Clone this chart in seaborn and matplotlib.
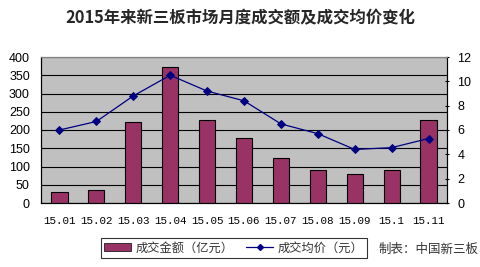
import matplotlib
matplotlib.use("Agg")
import matplotlib.pyplot as plt
import seaborn as sns
import pandas as pd
import numpy as np
from matplotlib.patches import Patch
from matplotlib.lines import Line2D

months = ["15.01", "15.02", "15.03", "15.04", "15.05", "15.06", "15.07", "15.08", "15.09", "15.1", "15.11"]
amount = [30, 36, 222, 372, 227, 178, 124, 91, 79, 91, 228]
price = [6.0, 6.7, 8.8, 10.5, 9.2, 8.4, 6.5, 5.7, 4.4, 4.55, 5.3]
left_ticks = [0, 50, 100, 150, 200, 250, 300, 350, 400]
right_ticks = [0, 2, 4, 6, 8, 10, 12]

title = "2015年来新三板市场月度成交额及成交均价变化"
bar_label = "成交金额（亿元）"
line_label = "成交均价（元）"
source = "制表：中国新三板"

sns.set_theme(style="white")
plt.rcParams["font.family"] = ["Noto Sans CJK SC", "DejaVu Sans"]

df = pd.DataFrame({"month": months, "amount": amount, "price": price})

fig = plt.figure(figsize=(4.8, 2.67), dpi=100)
fig.patch.set_facecolor("white")
ax = fig.add_axes([41/480, 1-203/267, (447-41)/480, (203-57)/267])
ax.set_facecolor("#C0C0C0")

bar_color = "#993366"
line_color = "#000080"

sns.barplot(data=df, x="month", y="amount", ax=ax, color=bar_color, width=0.44,
            edgecolor="black", linewidth=0.8, saturation=1, zorder=3)
ax.set_ylim(0, 400)
ax.set_xlim(-0.5, len(months) - 0.5)
ax.set_yticks(left_ticks)
ax.yaxis.grid(True, color="black", linewidth=0.8, zorder=1)
ax.set_axisbelow(True)
ax.set_xlabel("")
ax.set_ylabel("")

ax2 = ax.twinx()
sns.pointplot(data=df, x="month", y="price", ax=ax2, color=line_color,
              markers="D", markersize=4, linewidth=0.9, zorder=5)
ax2.set_ylim(0, 12)
ax2.set_yticks(right_ticks)
ax2.set_xlim(-0.5, len(months) - 0.5)
ax2.set_ylabel("")
ax2.set_xlabel("")

for a in (ax, ax2):
    for s in ["left", "bottom", "right"]:
        a.spines[s].set_color("black")
        a.spines[s].set_linewidth(0.8)
    a.spines["top"].set_color("#808080")
    a.spines["top"].set_linewidth(0.8)

ax.set_xticks(range(len(months)))
ax.set_xticklabels(months, family=["Liberation Mono", "DejaVu Sans"])
ax.tick_params(axis="x", length=0, labelsize=7.8, pad=9, colors="black")
ax.set_xticks(np.arange(-0.5, len(months), 1), minor=True)
ax.tick_params(axis="x", which="minor", length=3, direction="in", color="black", width=0.8)
ax.tick_params(axis="y", length=0, labelsize=9, pad=8, colors="black")
ax2.tick_params(axis="y", length=3, direction="inout", labelsize=9, pad=6, colors="black", width=0.8)
for lbl in ax.get_yticklabels() + ax2.get_yticklabels():
    lbl.set_family(["Liberation Sans", "DejaVu Sans"])

fig.text(0.5, 1-18/267, title, ha="center", va="center", fontsize=11.8, fontweight="bold")

handles = [Patch(facecolor=bar_color, edgecolor="black", linewidth=0.5),
           Line2D([0], [0], color=line_color, marker="D", markersize=3, linewidth=0.9)]
leg = fig.legend(handles, [bar_label, line_label], loc="center",
                 bbox_to_anchor=(234/480, 1-248/267), ncol=2, frameon=True,
                 fontsize=8.8, handlelength=2.2, handleheight=0.6, columnspacing=1.0,
                 handletextpad=0.4, borderpad=0.3, fancybox=False)
leg.get_frame().set_edgecolor("black")
leg.get_frame().set_linewidth(0.8)
for t in leg.get_texts():
    t.set_color("#333333")

fig.text(429/480, 1-249/267, source, ha="center", va="center", fontsize=9, color="#333333")

fig.savefig("out.png", dpi=100)
